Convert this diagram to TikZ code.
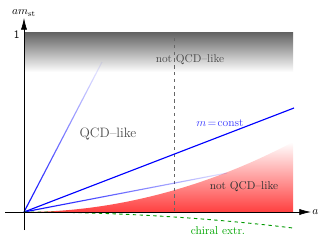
\documentclass[tikz,border=0pt]{standalone}
\usepackage{tikz}
\usetikzlibrary{arrows.meta,fadings}

\tikzfading[name=fade up, bottom color=transparent!0, middle color=transparent!15, top color=transparent!95]
\tikzfading[name=fade right, left color=transparent!0, middle color=transparent!20, right color=transparent!90]

\begin{document}
\begin{tikzpicture}[
  x=0.031cm, y=0.031cm,
  axis/.style={-{Latex[length=3.6mm,width=1.9mm]},semithick},
  bline/.style={blue,line width=1pt},
  lbl/.style={inner sep=1pt}
]
\useasboundingbox (-24,-29) rectangle (304,212);

\coordinate (O) at (0,0);
\coordinate (steep) at (78,150);
\coordinate (mconst) at (270,104);
\coordinate (flat) at (203,39);

% shaded regions
\shade[top color=black!62, bottom color=white] (0,140) rectangle (269,180);
\shade[top color=white, bottom color=red!75] (O) parabola (269,70) |- (O);

% boundary line
\draw[black!60, semithick, dashed] (150,174) coordinate (dtop) -- (150,0) coordinate (dbot);

% lines of constant m
\draw[bline, path fading=fade up] (O) -- (steep);
\draw[bline] (O) -- (mconst);
\draw[bline, path fading=fade right] (O) -- (flat);

% chiral extrapolation
\draw[green!60!black, thick, dashed] (O) parabola (269,-16) coordinate (chi);

% axes
\draw[axis] (-19,0) -- (287,0) coordinate (xend);
\draw[axis] (0,-18) -- (0,194) coordinate (yend);
\node[lbl, right] (alab) at (xend) {$a$};
\node[lbl, above] (amlab) at (yend) {$am_{\rm st}$};
\node[lbl, left] (one) at (-3,177) {\sffamily 1};

% labels
\node[lbl, text=black!70] (nqtop) at (166,152) {not QCD--like};
\node[lbl, text=black!70, font=\large] (qcd) at (84,78) {QCD--like};
\node[lbl, text=blue!75] (mlab) at (196,89) {$m\!=\!\mathrm{const}$};
\node[lbl, text=black!80] (nqbot) at (220,25) {not QCD--like};
\node[lbl, text=green!65!black] (chilab) at (194,-19) {chiral extr.};
\end{tikzpicture}
\end{document}
